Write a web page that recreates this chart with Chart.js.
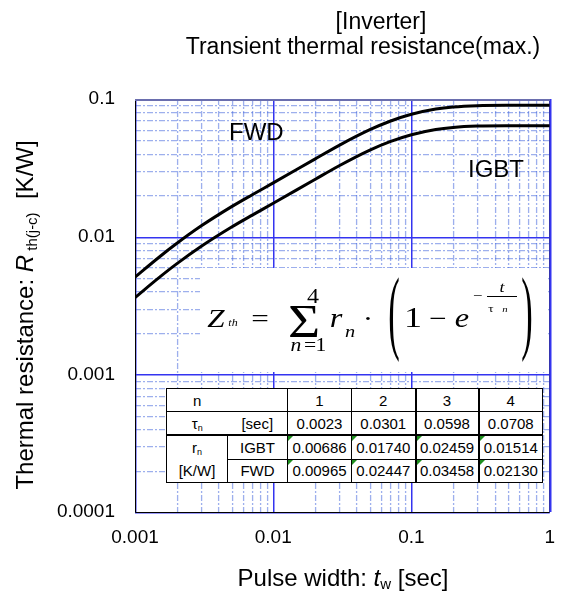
<!DOCTYPE html>
<html>
<head>
<meta charset="utf-8">
<script src="https://cdn.jsdelivr.net/npm/chart.js@4.4.1/dist/chart.umd.min.js"></script>
<style>
  body { margin: 0; background: #fff; }
  #wrap { position: relative; width: 569px; height: 595px; }
  #rtable {
    position: absolute; left: 166px; top: 388px;
    border-collapse: collapse; table-layout: fixed; background: #fff;
    font: 15px 'Liberation Sans', Arial, sans-serif; color: #000;
  }
  #rtable tr { height: 23.4px; }
  #rtable td {
    border: 1px solid #000; padding: 0; box-sizing: border-box;
    text-align: center; position: relative; line-height: 17px; white-space: nowrap;
  }
  #rtable sub { font-size: 9px; line-height: 0; vertical-align: -2px; }
  #rtable td.nor { border-right: hidden; }
  #rtable td.nol { border-left: hidden; }
  #rtable tr.r2 td { border-bottom: 2px solid #000; }
  #rtable td.thk { border-right: 2px solid #000; }
  #rtable .tri {
    position: absolute; left: 0; top: 0; width: 0; height: 0;
    border-top: 5px solid #1f8f1f; border-right: 5px solid transparent;
  }
</style>
</head>
<body>
<div id="wrap">
  <canvas id="zthChart"></canvas>
  <table id="rtable">
    <colgroup>
      <col style="width:61px"><col style="width:60px"><col style="width:64px">
      <col style="width:64px"><col style="width:63px"><col style="width:64px">
    </colgroup>
    <tbody id="rbody"></tbody>
  </table>
</div>
<script>
// curve points (Zth max, K/W)
var tw      = [0.001, 0.0015, 0.002, 0.003, 0.005, 0.007, 0.01, 0.02, 0.03, 0.05, 0.07, 0.1, 0.15, 0.2, 0.3, 0.5, 1];
var zthIgbt = [0.00361, 0.00506, 0.00634, 0.00848, 0.01175, 0.01429, 0.01747, 0.02602, 0.03277, 0.04256, 0.04903, 0.05506, 0.06005, 0.06220, 0.06361, 0.06397, 0.06399];
var zthFwd  = [0.00508, 0.00712, 0.00891, 0.01193, 0.01652, 0.02009, 0.02457, 0.03660, 0.04609, 0.05985, 0.06896, 0.07743, 0.08446, 0.08748, 0.08946, 0.08997, 0.09000];

var xTickValues = [0.001, 0.01, 0.1, 1];
var xTickLabels = ['0.001', '0.01', '0.1', '1'];
var yTickValues = [0.0001, 0.001, 0.01, 0.1];
var yTickLabels = ['0.0001', '0.001', '0.01', '0.1'];

// table of the foster model
var tableN     = ['1', '2', '3', '4'];
var tableTau   = ['0.0023', '0.0301', '0.0598', '0.0708'];
var tableRIgbt = ['0.00686', '0.01740', '0.02459', '0.01514'];
var tableRFwd  = ['0.00965', '0.02447', '0.03458', '0.02130'];

var SANS = "'Liberation Sans', Arial, sans-serif";
var SERIF = "'Liberation Serif', 'Times New Roman', serif";

// build the table
var thick = ['', 'thk', 'thk', ''];
var html = '';
html += '<tr><td class="nor">n</td><td class="nol"></td>';
tableN.forEach(function (v, i) { html += '<td class="' + thick[i] + '">' + v + '</td>'; });
html += '</tr><tr class="r2"><td class="nor">&tau;<sub>n</sub></td><td class="nol">[sec]</td>';
tableTau.forEach(function (v, i) { html += '<td class="' + thick[i] + '">' + v + '</td>'; });
html += '</tr><tr><td rowspan="2" style="line-height:23px">r<sub>n</sub><br>[K/W]</td><td>IGBT</td>';
tableRIgbt.forEach(function (v, i) { html += '<td class="' + thick[i] + '"><div class="tri"></div>' + v + '</td>'; });
html += '</tr><tr><td>FWD</td>';
tableRFwd.forEach(function (v, i) { html += '<td class="' + thick[i] + '"><div class="tri"></div>' + v + '</td>'; });
html += '</tr>';
document.getElementById('rbody').innerHTML = html;

function toPoints(xs, ys) {
    return xs.map(function (x, i) { return { x: x, y: ys[i] }; });
}

// log grid: dashed minor lines, solid blue decades, odd coloured frame
var gridPlugin = {
    id: 'logGrid',
    beforeDatasetsDraw: function (chart) {
        var ctx = chart.ctx, a = chart.chartArea;
        var xs = chart.scales.x, ys = chart.scales.y;
        ctx.save();
        ctx.lineWidth = 1.3;
        ctx.strokeStyle = 'rgba(60,95,220,0.5)';
        ctx.setLineDash([6, 2, 2, 2]);
        for (var e = -3; e < 0; e++) {
            for (var m = 2; m <= 9; m++) {
                var px = Math.round(xs.getPixelForValue(m * Math.pow(10, e))) + 0.6;
                ctx.beginPath(); ctx.moveTo(px, a.top); ctx.lineTo(px, a.bottom); ctx.stroke();
            }
        }
        for (var e2 = -4; e2 < -1; e2++) {
            for (var m2 = 2; m2 <= 9; m2++) {
                var py = Math.round(ys.getPixelForValue(m2 * Math.pow(10, e2))) + 0.6;
                ctx.beginPath(); ctx.moveTo(a.left, py); ctx.lineTo(a.right, py); ctx.stroke();
            }
        }
        ctx.setLineDash([]);
        ctx.fillStyle = '#3434f0';
        xTickValues.forEach(function (v) {
            var px = Math.round(xs.getPixelForValue(v));
            ctx.fillRect(px, a.top, 1.5, a.bottom - a.top);
        });
        yTickValues.forEach(function (v) {
            var py = Math.round(ys.getPixelForValue(v));
            ctx.fillRect(a.left, py, a.right - a.left, 1.5);
        });
        // frame
        var L = Math.round(a.left) + 0.5, R = Math.round(a.right) - 0.5;
        var T = Math.round(a.top), B = Math.round(a.bottom) + 0.5;
        ctx.lineWidth = 1;
        ctx.strokeStyle = '#3434b0';
        ctx.beginPath(); ctx.moveTo(R, T); ctx.lineTo(R, B); ctx.stroke();
        ctx.strokeStyle = '#000';
        ctx.beginPath(); ctx.moveTo(L, T); ctx.lineTo(L, B); ctx.lineTo(R, B); ctx.stroke();
        ctx.lineWidth = 2;
        ctx.strokeStyle = '#6a6eae';
        ctx.beginPath(); ctx.moveTo(L - 0.5, T + 1); ctx.lineTo(R + 0.5, T + 1); ctx.stroke();
        ctx.restore();
    }
};

function drawRun(ctx, x, y, parts) {
    parts.forEach(function (p) {
        ctx.font = p.f;
        ctx.fillText(p.t, x, y + (p.dy || 0));
        x += ctx.measureText(p.t).width;
    });
}
function runWidth(ctx, parts) {
    var w = 0;
    parts.forEach(function (p) { ctx.font = p.f; w += ctx.measureText(p.t).width; });
    return w;
}
function it(s) { return 'italic ' + s + 'px ' + SERIF; }
function rm(s) { return s + 'px ' + SERIF; }

// formula glyph, a bit wider than the font gives
function ft(ctx, t, font, x, y, align) {
    ctx.save();
    ctx.font = font;
    ctx.textAlign = align || 'center';
    ctx.translate(x, y);
    ctx.scale(1.2, 1);
    ctx.fillText(t, 0, 0);
    ctx.restore();
}

// tall thin bracket, stretched to the given height
function bigParen(ctx, ch, cx, top, bottom) {
    ctx.save();
    ctx.font = rm(30);
    ctx.textAlign = 'center';
    var m = ctx.measureText(ch);
    var sy = (bottom - top) / (m.actualBoundingBoxAscent + m.actualBoundingBoxDescent);
    ctx.translate(cx, top + m.actualBoundingBoxAscent * sy);
    ctx.scale(1.15, sy);
    ctx.fillText(ch, 0, 0);
    ctx.restore();
}

var textPlugin = {
    id: 'texts',
    afterDraw: function (chart) {
        var ctx = chart.ctx;
        ctx.save();
        ctx.fillStyle = '#000';
        ctx.textBaseline = 'alphabetic';

        // title
        ctx.textAlign = 'center';
        ctx.font = '23px ' + SANS;
        ctx.fillText('[Inverter]', 381, 29);
        ctx.fillText('Transient thermal resistance(max.)', 363, 54);

        // curve labels
        ctx.textAlign = 'left';
        ctx.font = '24px ' + SANS;
        ctx.fillText('FWD', 229, 140);
        ctx.fillText('IGBT', 468, 177);

        // x axis title
        var xt = [
            { t: 'Pulse width: ', f: '24px ' + SANS },
            { t: 't', f: 'italic 24px ' + SANS },
            { t: 'w', f: '15px ' + SANS, dy: 3 },
            { t: ' [sec]', f: '24px ' + SANS }
        ];
        drawRun(ctx, 343 - runWidth(ctx, xt) / 2, 586, xt);

        // y axis title
        var yt = [
            { t: 'Thermal resistance: ', f: '24px ' + SANS },
            { t: 'R', f: 'italic 24px ' + SANS },
            { t: ' th(j-c)', f: '15px ' + SANS, dy: 4 },
            { t: '  [K/W]', f: '24px ' + SANS }
        ];
        ctx.save();
        ctx.translate(33, 315 + runWidth(ctx, yt) / 2);
        ctx.rotate(-Math.PI / 2);
        drawRun(ctx, 0, 0, yt);
        ctx.restore();

        // formula box
        ctx.fillStyle = '#fff';
        ctx.fillRect(200, 268, 348, 104);
        ctx.fillStyle = '#000';
        ft(ctx, 'Z', it(26), 216, 327);
        ft(ctx, 'th', it(10), 233, 326);
        ft(ctx, '=', rm(26), 260, 327);
        ft(ctx, '\u03A3', rm(46), 304, 337);
        ft(ctx, '4', rm(20), 313, 303);
        ft(ctx, 'n', it(18), 296, 351);
        ft(ctx, '=', rm(18), 310, 351);
        ft(ctx, '1', rm(18), 321, 351);
        ft(ctx, 'r', it(27), 336, 327);
        ft(ctx, 'n', it(17), 350, 337);
        ft(ctx, '\u00B7', rm(26), 368, 327);
        bigParen(ctx, '(', 394, 277, 363);
        ft(ctx, '1', rm(30), 413, 327);
        ft(ctx, '\u2212', rm(26), 438, 327);
        ft(ctx, 'e', it(27), 462, 327);
        ft(ctx, '\u2212', rm(14), 478, 300);
        ctx.fillRect(487, 296, 30, 1);
        ft(ctx, 't', it(15), 502, 292);
        ft(ctx, '\u03C4', rm(11), 491, 312);
        ft(ctx, 'n', it(9), 505, 312);
        bigParen(ctx, ')', 527, 277, 363);

        ctx.restore();
    }
};

var ctx = document.getElementById('zthChart').getContext('2d');
var zthChart = new Chart(ctx, {
    type: 'line',
    data: {
        datasets: [
            {
                label: 'FWD',
                data: toPoints(tw, zthFwd),
                borderColor: '#000',
                borderWidth: 3,
                pointRadius: 0,
                cubicInterpolationMode: 'monotone'
            },
            {
                label: 'IGBT',
                data: toPoints(tw, zthIgbt),
                borderColor: '#000',
                borderWidth: 3,
                pointRadius: 0,
                cubicInterpolationMode: 'monotone'
            }
        ]
    },
    options: {
        responsive: true,
        maintainAspectRatio: false,
        animation: false,
        layout: { padding: { top: 99, right: 12, bottom: 0, left: 0 } },
        plugins: {
            legend: { display: false },
            tooltip: { enabled: false },
            title: { display: false }
        },
        scales: {
            x: {
                type: 'logarithmic',
                min: 0.001,
                max: 1,
                grid: { display: false, drawTicks: false },
                border: { display: false },
                afterBuildTicks: function (scale) {
                    scale.ticks = xTickValues.map(function (v) { return { value: v }; });
                },
                afterFit: function (scale) { scale.height = 83; },
                ticks: {
                    autoSkip: false,
                    maxRotation: 0,
                    padding: 14,
                    color: '#000',
                    font: { family: SANS, size: 19 },
                    callback: function (value, index) { return xTickLabels[index]; }
                }
            },
            y: {
                type: 'logarithmic',
                min: 0.0001,
                max: 0.1,
                grid: { display: false, drawTicks: false },
                border: { display: false },
                afterBuildTicks: function (scale) {
                    scale.ticks = yTickValues.map(function (v) { return { value: v }; });
                },
                afterFit: function (scale) { scale.width = 135; },
                ticks: {
                    autoSkip: false,
                    padding: 20,
                    color: '#000',
                    font: { family: SANS, size: 19 },
                    callback: function (value, index) { return yTickLabels[index]; }
                }
            }
        }
    },
    plugins: [gridPlugin, textPlugin]
});
</script>
</body>
</html>
